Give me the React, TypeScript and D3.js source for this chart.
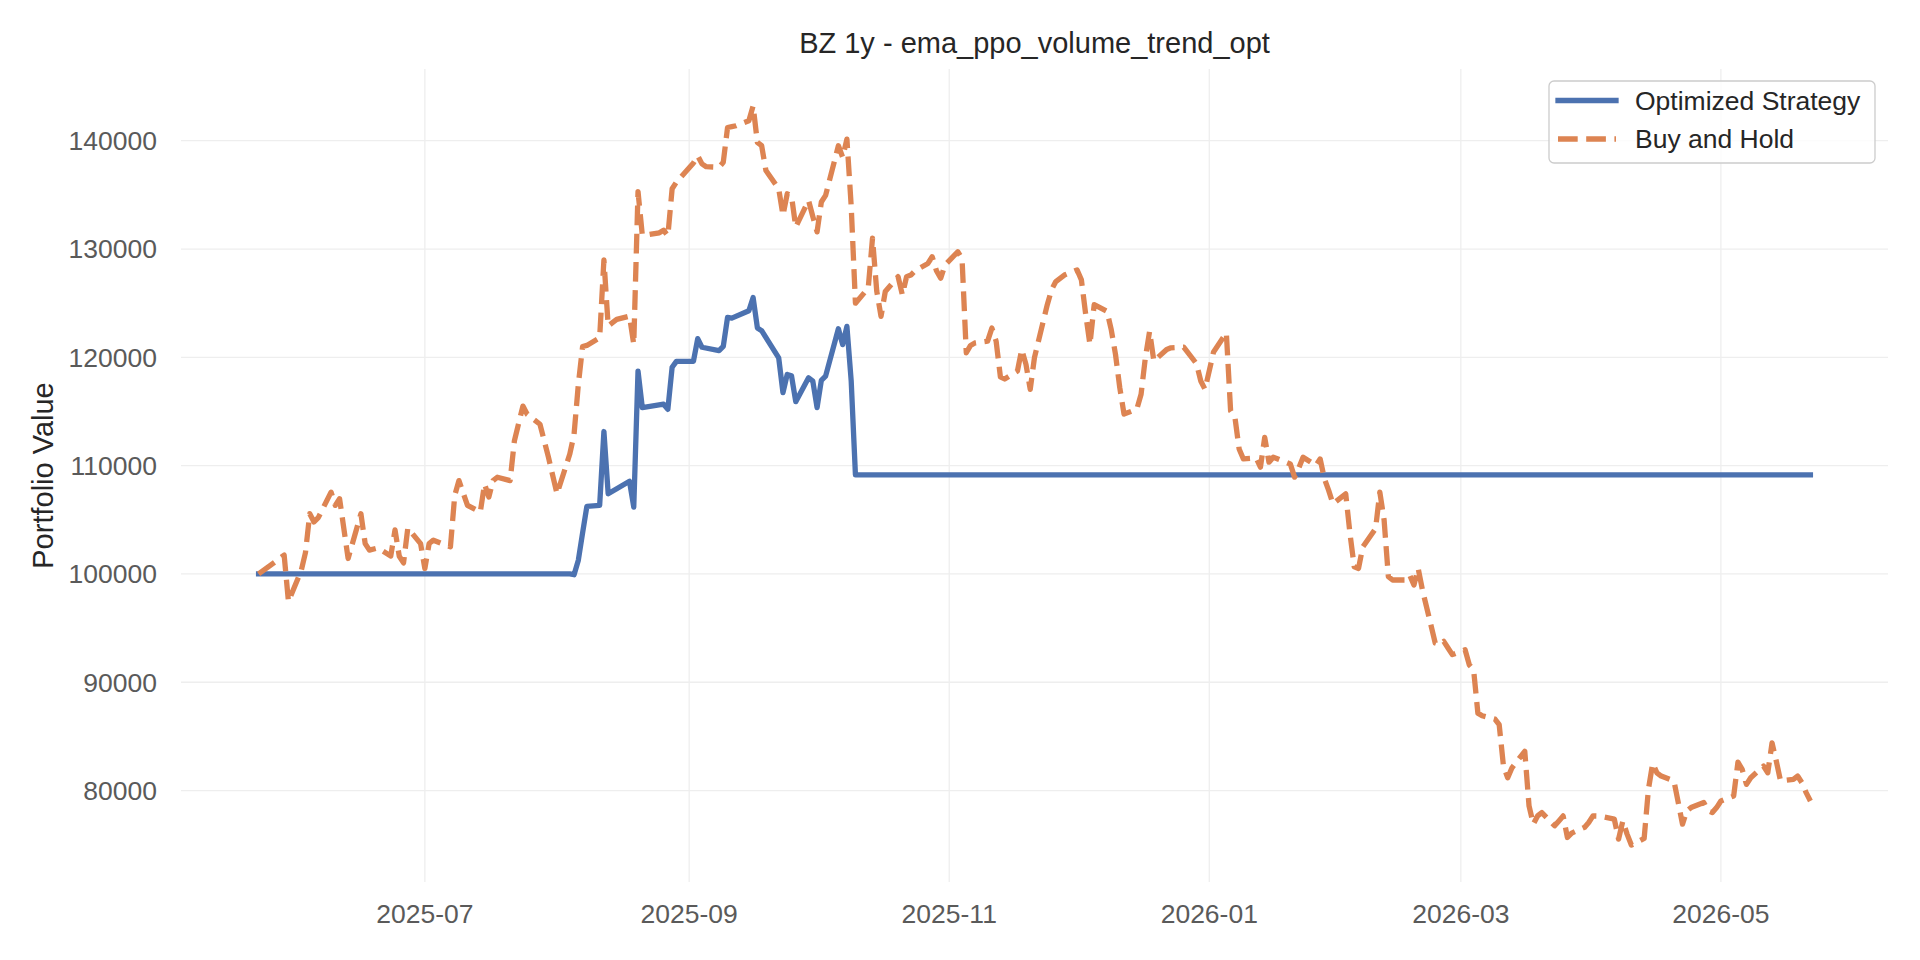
import * as d3 from "d3";
import React from "react";

// values (trading days, straight lines between)
const strategyDates = [
  "2025-05-23", "2025-08-04", "2025-08-05", "2025-08-06", "2025-08-07", "2025-08-08",
  "2025-08-11", "2025-08-12", "2025-08-13", "2025-08-18", "2025-08-19", "2025-08-20",
  "2025-08-21", "2025-08-26", "2025-08-27", "2025-08-28", "2025-08-29", "2025-09-02",
  "2025-09-03", "2025-09-04", "2025-09-08", "2025-09-09", "2025-09-10", "2025-09-11",
  "2025-09-15", "2025-09-16", "2025-09-17", "2025-09-18", "2025-09-22", "2025-09-23",
  "2025-09-24", "2025-09-25", "2025-09-26", "2025-09-29", "2025-09-30", "2025-10-01",
  "2025-10-02", "2025-10-03", "2025-10-06", "2025-10-07", "2025-10-08", "2025-10-09",
  "2025-10-10", "2026-05-22",
];
const strategyValues = [
  100000, 100000, 99930, 101270, 103800, 106240,
  106330, 113150, 107400, 108560, 106170, 118730,
  115360, 115670, 115200, 119090, 119630, 119640,
  121720, 120930, 120620, 121020, 123680, 123620,
  124300, 125520, 122710, 122460, 119950, 116740,
  118420, 118300, 115910, 118110, 117800, 115360,
  117870, 118270, 122640, 121170, 122860, 117840,
  109150, 109150,
];

const buyHoldDates = [
  "2025-05-23", "2025-05-29", "2025-05-30", "2025-06-02", "2025-06-03", "2025-06-04",
  "2025-06-05", "2025-06-06", "2025-06-09", "2025-06-10", "2025-06-11", "2025-06-13",
  "2025-06-16", "2025-06-17", "2025-06-18", "2025-06-20", "2025-06-23", "2025-06-24",
  "2025-06-25", "2025-06-26", "2025-06-27", "2025-06-30", "2025-07-01", "2025-07-02",
  "2025-07-03", "2025-07-07", "2025-07-08", "2025-07-09", "2025-07-11", "2025-07-14",
  "2025-07-15", "2025-07-16", "2025-07-17", "2025-07-18", "2025-07-21", "2025-07-22",
  "2025-07-24", "2025-07-25", "2025-07-28", "2025-07-30", "2025-08-01", "2025-08-04",
  "2025-08-05", "2025-08-06", "2025-08-07", "2025-08-08", "2025-08-11", "2025-08-12",
  "2025-08-13", "2025-08-14", "2025-08-15", "2025-08-18", "2025-08-19", "2025-08-20",
  "2025-08-21", "2025-08-22", "2025-08-25", "2025-08-26", "2025-08-27", "2025-08-28",
  "2025-08-29", "2025-09-02", "2025-09-03", "2025-09-04", "2025-09-05", "2025-09-08",
  "2025-09-09", "2025-09-10", "2025-09-11", "2025-09-12", "2025-09-15", "2025-09-16",
  "2025-09-17", "2025-09-18", "2025-09-19", "2025-09-22", "2025-09-23", "2025-09-24",
  "2025-09-25", "2025-09-26", "2025-09-29", "2025-09-30", "2025-10-01", "2025-10-02",
  "2025-10-03", "2025-10-06", "2025-10-07", "2025-10-08", "2025-10-09", "2025-10-10",
  "2025-10-13", "2025-10-14", "2025-10-15", "2025-10-16", "2025-10-17", "2025-10-20",
  "2025-10-21", "2025-10-22", "2025-10-23", "2025-10-24", "2025-10-27", "2025-10-28",
  "2025-10-29", "2025-10-30", "2025-10-31", "2025-11-03", "2025-11-04", "2025-11-05",
  "2025-11-06", "2025-11-07", "2025-11-10", "2025-11-11", "2025-11-12", "2025-11-13",
  "2025-11-14", "2025-11-17", "2025-11-18", "2025-11-19", "2025-11-20", "2025-11-21",
  "2025-11-24", "2025-11-25", "2025-11-26", "2025-11-28", "2025-12-01", "2025-12-02",
  "2025-12-03", "2025-12-04", "2025-12-05", "2025-12-08", "2025-12-09", "2025-12-10",
  "2025-12-11", "2025-12-12", "2025-12-15", "2025-12-16", "2025-12-17", "2025-12-18",
  "2025-12-19", "2025-12-22", "2025-12-23", "2025-12-24", "2025-12-26", "2025-12-29",
  "2025-12-30", "2025-12-31", "2026-01-02", "2026-01-05", "2026-01-06", "2026-01-07",
  "2026-01-08", "2026-01-09", "2026-01-12", "2026-01-13", "2026-01-14", "2026-01-15",
  "2026-01-16", "2026-01-20", "2026-01-21", "2026-01-22", "2026-01-23", "2026-01-26",
  "2026-01-27", "2026-01-28", "2026-01-29", "2026-01-30", "2026-02-02", "2026-02-03",
  "2026-02-04", "2026-02-05", "2026-02-06", "2026-02-09", "2026-02-10", "2026-02-11",
  "2026-02-12", "2026-02-13", "2026-02-16", "2026-02-17", "2026-02-18", "2026-02-19",
  "2026-02-20", "2026-02-23", "2026-02-24", "2026-02-25", "2026-02-26", "2026-02-27",
  "2026-03-02", "2026-03-03", "2026-03-04", "2026-03-05", "2026-03-06", "2026-03-09",
  "2026-03-10", "2026-03-11", "2026-03-12", "2026-03-13", "2026-03-16", "2026-03-17",
  "2026-03-18", "2026-03-19", "2026-03-20", "2026-03-23", "2026-03-24", "2026-03-25",
  "2026-03-26", "2026-03-27", "2026-03-30", "2026-03-31", "2026-04-01", "2026-04-02",
  "2026-04-03", "2026-04-06", "2026-04-07", "2026-04-08", "2026-04-09", "2026-04-10",
  "2026-04-13", "2026-04-14", "2026-04-15", "2026-04-16", "2026-04-17", "2026-04-20",
  "2026-04-21", "2026-04-22", "2026-04-23", "2026-04-24", "2026-04-27", "2026-04-28",
  "2026-04-29", "2026-04-30", "2026-05-01", "2026-05-04", "2026-05-05", "2026-05-06",
  "2026-05-07", "2026-05-08", "2026-05-11", "2026-05-12", "2026-05-13", "2026-05-14",
  "2026-05-15", "2026-05-18", "2026-05-19", "2026-05-20", "2026-05-21", "2026-05-22",
];
const buyHoldValues = [
  100000, 101735, 97450, 100300, 101980, 105560,
  104800, 105200, 107550, 106330, 106940, 101430,
  105560, 102800, 102200, 102400, 101650, 104070,
  101630, 101020, 104240, 102800, 100510, 102810,
  103120, 102500, 107240, 108620, 106330, 105710,
  108310, 107100, 108620, 108930, 108620, 112290,
  115500, 114740, 113820, 110760, 107400, 111070,
  112900, 117500, 121000, 121100, 121800, 129000,
  122900, 123200, 123500, 123800, 121200, 135300,
  131300, 131300, 131500, 131740, 131220, 135560,
  136170, 137950, 138620, 137860, 137600, 137550,
  138010, 141220, 141300, 141380, 141840, 143210,
  139850, 139540, 137250, 135560, 133110, 135100,
  134900, 132040, 134490, 133000, 131580, 134340,
  134950, 139540, 138470, 140150, 134000, 125000,
  126400, 131000, 126100, 123780, 126080, 127450,
  125770, 127450, 127600, 128000, 128670, 129290,
  128000, 127300, 128520, 129750, 129140, 120420,
  121100, 121330, 121500, 122700, 121490, 118200,
  118000, 118740, 120730, 119350, 117050, 120000,
  124860, 126240, 127000, 127600, 128070, 127150,
  124000, 121180, 124860, 124250, 122560, 120270,
  117200, 114760, 115210, 116590, 119960, 122410,
  119650, 120730, 120880, 120900, 120940, 119410,
  117820, 117050, 120500, 122260, 115060, 114510,
  111540, 110620, 110710, 109860, 112610, 110320,
  110780, 110160, 108940, 109800, 110780, 110010,
  110620, 108790, 107720, 106480, 107400, 103720,
  100660, 100510, 102500, 104180, 107550, 105000,
  99750, 99440, 99440, 99900, 98980, 100510,
  98520, 93620, 93470, 93770, 93160, 92550,
  93000, 91600, 91150, 87150, 86910, 86600,
  86080, 82260, 81180, 82100, 83630, 78580,
  76900, 77660, 77970, 76750, 77200, 77660,
  75670, 76070, 76600, 77050, 77660, 77650,
  77600, 77360, 75520, 77200, 75980, 74970,
  75580, 80110, 82500, 81640, 81340, 80880,
  78890, 76900, 78120, 78430, 78890, 78120,
  77970, 78430, 79040, 79500, 82620, 81950,
  80570, 81180, 82260, 81640, 84400, 82710,
  80880, 81030, 81340, 80730, 79810, 79040,
];

const yTickValues = [80000, 90000, 100000, 110000, 120000, 130000, 140000];
const xTickDates = ["2025-07-01", "2025-09-01", "2025-11-01", "2026-01-01", "2026-03-01", "2026-05-01"];

const seriesNames = ["Optimized Strategy", "Buy and Hold"];
const titleText = "BZ 1y - ema_ppo_volume_trend_opt";
const yLabelText = "Portfolio Value";

const W = 1920;
const H = 960;
const margin = { top: 69, right: 32, bottom: 78, left: 181 };
const FONT = "'Liberation Sans', Arial, Helvetica, sans-serif";
const BLUE = "#4c72b0";
const ORANGE = "#dd8452";

const parse = d3.timeParse("%Y-%m-%d");

export default function App() {
  const strategy = strategyDates.map((d, i) => ({ date: parse(d)!, value: strategyValues[i] }));
  const buyHold = buyHoldDates.map((d, i) => ({ date: parse(d)!, value: buyHoldValues[i] }));

  const allDates = [...strategy, ...buyHold].map((d) => d.date.getTime());
  const allValues = [...strategyValues, ...buyHoldValues];
  const tMin = d3.min(allDates)!;
  const tMax = d3.max(allDates)!;
  const vMin = d3.min(allValues)!;
  const vMax = d3.max(allValues)!;
  // matplotlib style 5% margins
  const tPad = (tMax - tMin) * 0.05;
  const vPad = (vMax - vMin) * 0.05;

  const x = d3
    .scaleTime()
    .domain([new Date(tMin - tPad), new Date(tMax + tPad)])
    .range([margin.left, W - margin.right]);
  const y = d3
    .scaleLinear()
    .domain([vMin - vPad, vMax + vPad])
    .range([H - margin.bottom, margin.top]);

  const line = d3
    .line<{ date: Date; value: number }>()
    .x((d) => x(d.date))
    .y((d) => y(d.value));

  const fmt = d3.timeFormat("%Y-%m");
  const plotTop = margin.top;
  const plotBottom = H - margin.bottom;
  const plotLeft = margin.left;
  const plotRight = W - margin.right;

  const legendX = plotRight - 13 - 326;
  const legendY = plotTop + 12;

  return (
    <svg
      width={W}
      height={H}
      style={{ position: "absolute", left: 0, top: 0, background: "#ffffff" }}
      fontFamily={FONT}
    >
      <rect x={0} y={0} width={W} height={H} fill="#ffffff" />

      {/* grid */}
      {xTickDates.map((d) => (
        <line
          key={"gx" + d}
          x1={x(parse(d)!)}
          x2={x(parse(d)!)}
          y1={plotTop}
          y2={plotBottom}
          stroke="#eeeeee"
          strokeWidth={1.3}
        />
      ))}
      {yTickValues.map((v) => (
        <line
          key={"gy" + v}
          x1={plotLeft}
          x2={plotRight}
          y1={y(v)}
          y2={y(v)}
          stroke="#eeeeee"
          strokeWidth={1.3}
        />
      ))}

      {/* tick labels */}
      {xTickDates.map((d) => (
        <text
          key={"tx" + d}
          x={x(parse(d)!)}
          y={923}
          textAnchor="middle"
          fontSize={26.5}
          fill="#5a5a5a"
        >
          {fmt(parse(d)!)}
        </text>
      ))}
      {yTickValues.map((v) => (
        <text
          key={"ty" + v}
          x={157}
          y={y(v)}
          dy="0.35em"
          textAnchor="end"
          fontSize={26.5}
          fill="#5a5a5a"
        >
          {v}
        </text>
      ))}

      {/* series */}
      <path
        d={line(strategy) ?? ""}
        fill="none"
        stroke={BLUE}
        strokeWidth={5.3}
        strokeLinejoin="round"
        strokeLinecap="square"
      />
      <path
        d={line(buyHold) ?? ""}
        fill="none"
        stroke={ORANGE}
        strokeWidth={5.3}
        strokeDasharray="19.7 8.5"
        strokeLinejoin="round"
        strokeLinecap="butt"
      />

      {/* title and axis label */}
      <text x={(plotLeft + plotRight) / 2} y={53} textAnchor="middle" fontSize={29} fill="#262626">
        {titleText}
      </text>
      <text
        transform={`translate(53, ${(plotTop + plotBottom) / 2}) rotate(-90)`}
        textAnchor="middle"
        fontSize={29}
        fill="#262626"
      >
        {yLabelText}
      </text>

      {/* legend */}
      <g transform={`translate(${legendX}, ${legendY})`}>
        <rect
          x={0}
          y={0}
          width={326}
          height={82}
          rx={5}
          fill="#ffffff"
          fillOpacity={0.8}
          stroke="#cccccc"
          strokeWidth={1.3}
        />
        <line x1={9} x2={67} y1={19.5} y2={19.5} stroke={BLUE} strokeWidth={5.3} strokeLinecap="square" />
        <line
          x1={9}
          x2={67}
          y1={58}
          y2={58}
          stroke={ORANGE}
          strokeWidth={5.3}
          strokeDasharray="19.7 8.5"
        />
        <text x={86} y={19.5} dy="0.35em" fontSize={26.5} fill="#262626">
          {seriesNames[0]}
        </text>
        <text x={86} y={58} dy="0.35em" fontSize={26.5} fill="#262626">
          {seriesNames[1]}
        </text>
      </g>
    </svg>
  );
}
